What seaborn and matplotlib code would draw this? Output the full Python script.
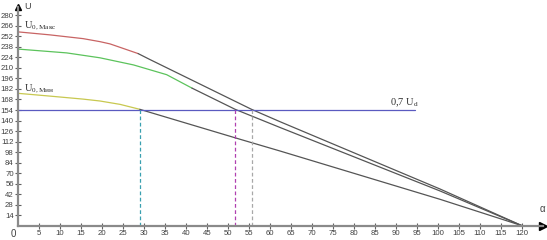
import numpy as np
import pandas as pd
import matplotlib
matplotlib.use("Agg")
import matplotlib.pyplot as plt
import seaborn as sns

# ---- data (alpha in degrees, U in volts) ----
red_alpha = [0, 7.6, 15.5, 19.5, 21.9, 24.3, 28.6]
red_u = [258, 254.0, 249.0, 245.0, 242.0, 237.4, 229.1]
upper_alpha = [28.6, 31.4, 55.6, 62.4, 100.5, 120]
upper_u = [229.1, 221.2, 154.9, 138.4, 48.8, 0]

green_alpha = [0, 11.6, 19.5, 27.5, 35.4, 41.4]
green_u = [235.1, 230.0, 223.5, 214.0, 201.0, 183.2]
middle_alpha = [41.4, 51.7, 62.4, 100.5, 120]
middle_u = [183.2, 154.9, 130.7, 46.2, 0]

yellow_alpha = [0, 7.6, 15.5, 19.5, 24.3, 29.0]
yellow_u = [176.2, 172.5, 168.5, 166.0, 161.5, 154.9]
lower_alpha = [29.0, 52.9, 62.4, 100.5, 120]
lower_u = [154.9, 115.0, 99.4, 35.1, 0]

level_alpha = [0, 94.5]
level_u = [154, 154]

cross_alpha = [29.0, 51.7, 55.6]
cross_u = 154

x_ticks = list(range(5, 121, 5))
y_ticks = list(range(14, 281, 14))

sns.set_theme(style="white")
plt.rcParams['font.family'] = ['Liberation Sans', 'DejaVu Sans']

fig = plt.figure(figsize=(5.47, 2.40), dpi=100)
ax = fig.add_axes([18 / 547, 14.3 / 240, 525 / 547, 219 / 240])

def seg(xs, ys, color, lw=0.9):
    df = pd.DataFrame({"a": xs, "u": ys})
    sns.lineplot(data=df, x="a", y="u", ax=ax, color=color, lw=lw,
                 sort=False, estimator=None)

seg(red_alpha, red_u, "#c86464")
seg(upper_alpha, upper_u, "#555555")
seg(green_alpha, green_u, "#5cc35c")
seg(middle_alpha, middle_u, "#555555")
seg(yellow_alpha, yellow_u, "#c8c850")
seg(lower_alpha, lower_u, "#555555")
seg(level_alpha, level_u, "#5a5ac0")

dash_colors = ["#3aa0b0", "#b040b0", "#a8a8a8"]
for xa, c in zip(cross_alpha, dash_colors):
    ax.vlines(xa, 0, cross_u, colors=c, linestyles=(0, (3, 2)), lw=0.9)

ax.set_xlim(0, 125)
ax.set_ylim(0, 291.5)
ax.set_xlabel("")
ax.set_ylabel("")
ax.set_xticks(x_ticks)
ax.set_yticks(y_ticks)
ax.set_xticklabels([str(t) for t in x_ticks])
ax.set_yticklabels([str(t) for t in y_ticks])
ax.tick_params(axis="both", which="major", direction="inout", length=4,
               width=0.8, color="#606060", labelsize=5.6, labelcolor="#404040",
               pad=1.0, bottom=True, left=True)

for s in ["top", "right"]:
    ax.spines[s].set_visible(False)
for s in ["left", "bottom"]:
    ax.spines[s].set_color("#8a8a8a")
    ax.spines[s].set_linewidth(1.6)

# axis arrows
ax.plot(1.0, 0, marker=">", color="black", ms=6, transform=ax.transAxes, clip_on=False)
ax.plot(0, 1.0, marker="^", color="black", ms=5, transform=ax.transAxes, clip_on=False)
ax.text(0.012, 1.0, "U", transform=ax.transAxes, fontsize=6.5, color="#404040",
        va="center", ha="left")
ax.text(0.998, 0.055, "α", transform=ax.transAxes, fontsize=7, color="#404040",
        va="bottom", ha="center")
ax.text(-0.004, -0.015, "0", transform=ax.transAxes, fontsize=7, color="#404040",
        va="top", ha="right")

serif = ['Liberation Serif', 'DejaVu Serif']
ax.text(1.5, 264, r"U$_{\mathregular{0,Макс}}$", fontsize=7.5, family=serif, color="#303030")
ax.text(1.5, 180, r"U$_{\mathregular{0,Мин}}$", fontsize=7.5, family=serif, color="#303030")
ax.text(88.5, 160, r"0,7 U$_{\mathregular{d}}$", fontsize=7.5, family=serif, color="#303030")

fig.savefig("out.png", dpi=100)
